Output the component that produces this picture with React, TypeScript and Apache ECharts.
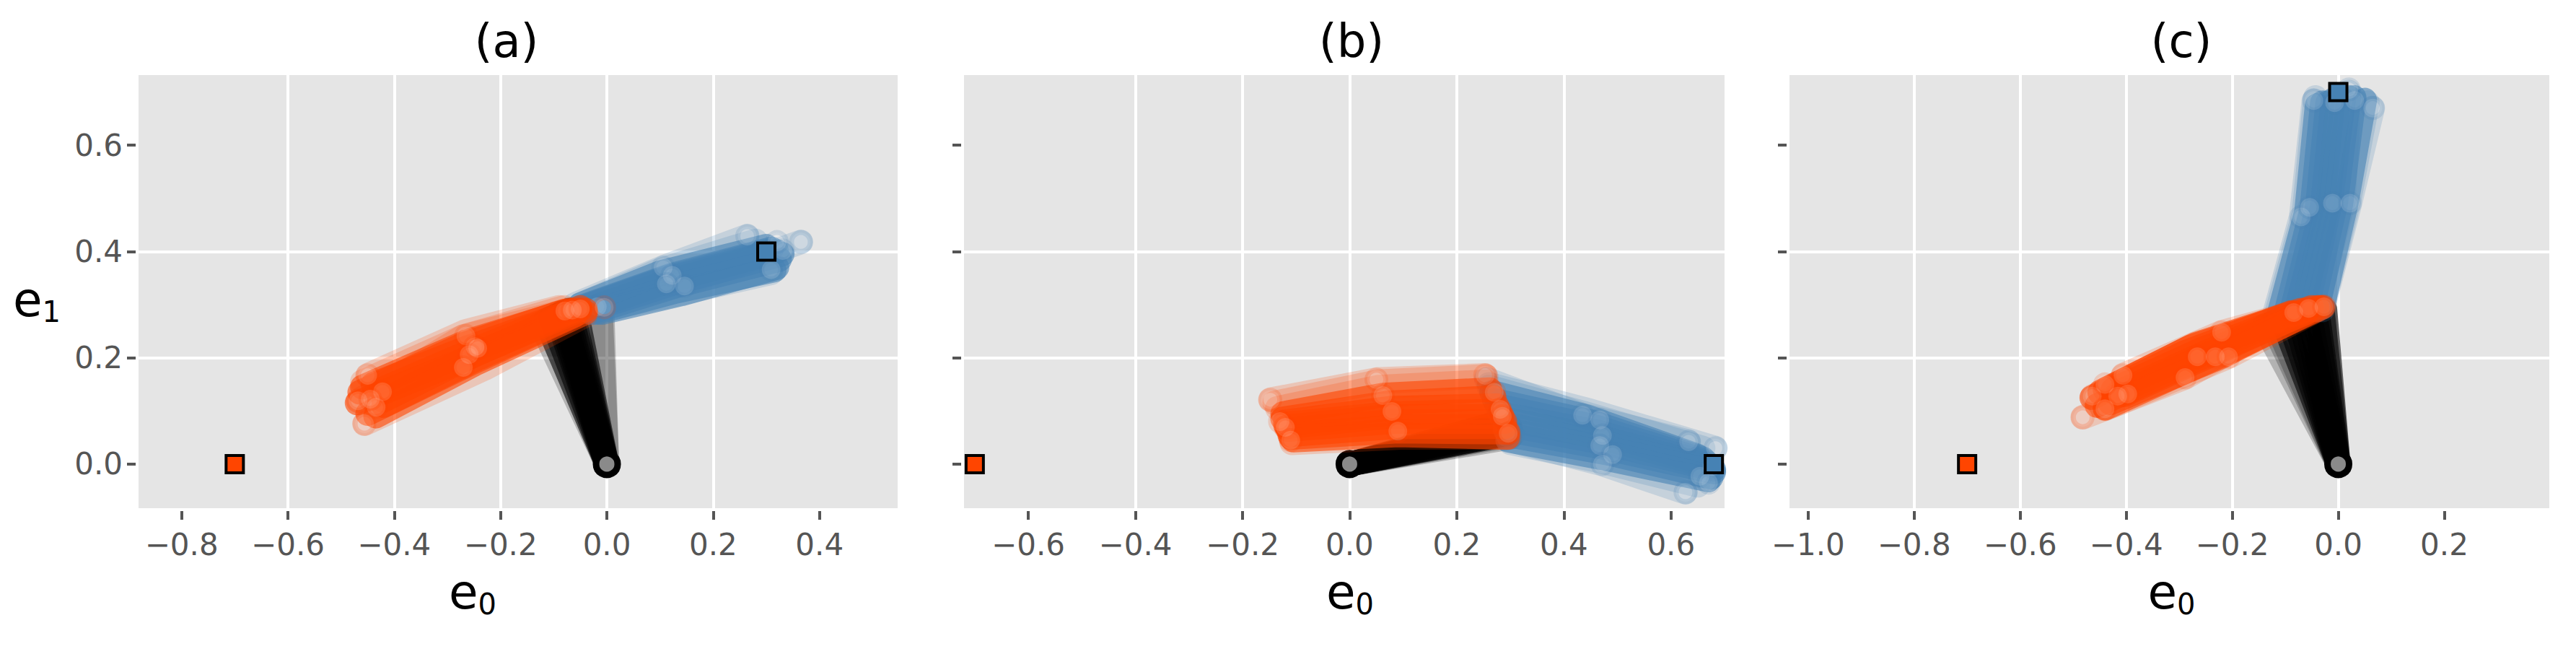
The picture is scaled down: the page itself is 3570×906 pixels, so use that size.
import React, { useEffect, useRef } from "react";
import * as echarts from "echarts";

const BLUE = "#4682b4";
const ORANGE = "#ff4500";
const BLACK = "#000000";

const titles = ["(a)", "(b)", "(c)"];
const yTicks = [0, 0.2, 0.4, 0.6];
const aTicks = [-0.8, -0.6, -0.4, -0.2, 0, 0.2, 0.4];
const bTicks = [-0.6, -0.4, -0.2, 0, 0.2, 0.4, 0.6];
const cTicks = [-1, -0.8, -0.6, -0.4, -0.2, 0, 0.2];
const xRanges = [[-0.881, 0.547], [-0.72, 0.7], [-1.035, 0.398]];
const yRange = [-0.083, 0.732];

const origin = [[0, 0]];
const orangeTarget = [[-0.7, 0]];
const blueTargets = [[[0.3, 0.4]], [[0.68, 0]], [[0, 0.7]]];

// Trajectories: x0,y0,x1,y1[,x2,y2]
const aBlackCore = [[0,0,-0.115,0.27],[0,0,-0.105,0.275],[0,0,-0.095,0.28],[0,0,-0.09,0.28],[0,0,-0.085,0.285],[0,0,-0.08,0.285],[0,0,-0.075,0.285],[0,0,-0.07,0.29],[0,0,-0.065,0.29],[0,0,-0.058,0.29]];
const aBlackEdge = [[0,0,-0.125,0.265],[0,0,-0.009,0.295],[0,0,-0.012,0.29]];
const aBlueCore = [[-0.07,0.285,0.1,0.345,0.295,0.395],[-0.06,0.29,0.11,0.35,0.3,0.4],[-0.05,0.295,0.12,0.355,0.31,0.405],[-0.04,0.29,0.12,0.345,0.32,0.4],[-0.03,0.29,0.125,0.34,0.33,0.395],[-0.03,0.285,0.13,0.335,0.325,0.385],[-0.02,0.285,0.13,0.325,0.315,0.365],[-0.01,0.285,0.14,0.32,0.32,0.37],[-0.05,0.3,0.1,0.36,0.3,0.41]];
const aBlueEdge = [[-0.06,0.3,0.106,0.37,0.264,0.429],[-0.05,0.3,0.1,0.365,0.28,0.42],[-0.03,0.295,0.146,0.34,0.365,0.418],[-0.018,0.29,0.112,0.315,0.309,0.36]];
const aOrangeCore = [[-0.08,0.288,-0.27,0.225,-0.465,0.135],[-0.07,0.29,-0.265,0.23,-0.46,0.145],[-0.06,0.29,-0.26,0.22,-0.44,0.15],[-0.05,0.295,-0.25,0.215,-0.425,0.14],[-0.05,0.29,-0.25,0.205,-0.42,0.12],[-0.04,0.29,-0.24,0.2,-0.42,0.11],[-0.04,0.285,-0.245,0.19,-0.435,0.09],[-0.06,0.28,-0.255,0.19,-0.45,0.095],[-0.07,0.285,-0.26,0.2,-0.47,0.115]];
const aOrangeEdge = [[-0.09,0.295,-0.265,0.25,-0.45,0.167],[-0.08,0.295,-0.27,0.24,-0.46,0.155],[-0.04,0.28,-0.23,0.18,-0.456,0.076],[-0.07,0.29,-0.27,0.24,-0.468,0.119]];
const aBlueMarks = [[-0.018,0.296],[0.106,0.37],[0.123,0.355],[0.146,0.335],[0.112,0.339],[0.264,0.429],[0.365,0.418],[0.309,0.366],[0.331,0.402],[0.32,0.418]];
const aOrangeMarks = [[-0.005,0.295],[-0.079,0.288],[-0.065,0.29],[-0.05,0.292],[-0.265,0.241],[-0.248,0.221],[-0.259,0.206],[-0.243,0.218],[-0.27,0.182],[-0.45,0.167],[-0.422,0.136],[-0.468,0.119],[-0.434,0.107],[-0.456,0.076],[-0.445,0.122]];

const bBlackCore = [[0,0,0.285,0.08],[0,0,0.29,0.075],[0,0,0.295,0.07],[0,0,0.295,0.065],[0,0,0.3,0.07],[0,0,0.3,0.065],[0,0,0.3,0.06],[0,0,0.295,0.058],[0,0,0.29,0.055],[0,0,0.285,0.07]];
const bBlackEdge = [[0,0,0.3,0.05],[0,0,0.305,0.055],[0,0,0.27,0.07]];
const bBlueCore = [[0.265,0.135,0.44,0.09,0.65,0.015],[0.27,0.12,0.45,0.08,0.66,0.01],[0.275,0.11,0.46,0.07,0.665,0.005],[0.28,0.095,0.465,0.06,0.67,0],[0.285,0.085,0.47,0.05,0.675,-0.005],[0.29,0.075,0.475,0.04,0.68,-0.01],[0.29,0.065,0.48,0.03,0.68,-0.015],[0.295,0.055,0.485,0.02,0.675,-0.025],[0.295,0.045,0.48,0.01,0.67,-0.03]];
const bBlueEdge = [[0.255,0.16,0.435,0.092,0.633,0.042],[0.26,0.15,0.45,0.1,0.683,0.03],[0.26,0.145,0.44,0.095,0.66,0.03],[0.3,0.045,0.472,0,0.627,-0.053],[0.3,0.04,0.47,0.005,0.65,-0.04]];
const bOrangeCore = [[0.262,0.14,0.062,0.13,-0.125,0.095],[0.27,0.125,0.07,0.115,-0.125,0.085],[0.275,0.11,0.075,0.105,-0.12,0.08],[0.28,0.1,0.075,0.095,-0.12,0.075],[0.285,0.09,0.08,0.09,-0.118,0.07],[0.29,0.08,0.085,0.08,-0.115,0.065],[0.29,0.07,0.085,0.07,-0.112,0.055],[0.296,0.06,0.09,0.062,-0.11,0.05],[0.295,0.05,0.09,0.055,-0.105,0.045]];
const bOrangeEdge = [[0.253,0.167,0.05,0.159,-0.148,0.121],[0.255,0.165,0.052,0.155,-0.14,0.115],[0.255,0.155,0.055,0.145,-0.135,0.105],[0.298,0.05,0.095,0.05,-0.108,0.04]];
const bBlueMarks = [[0.435,0.092],[0.467,0.083],[0.472,0.054],[0.467,0.035],[0.491,0.018],[0.472,0],[0.633,0.042],[0.627,-0.053],[0.654,-0.023],[0.677,-0.005],[0.683,0.03],[0.67,-0.035]];
const bOrangeMarks = [[0.253,0.167],[0.27,0.135],[0.281,0.103],[0.285,0.09],[0.296,0.058],[0.05,0.159],[0.062,0.129],[0.079,0.099],[0.09,0.062],[-0.148,0.121],[-0.13,0.08],[-0.12,0.069],[-0.11,0.045]];

const cBlackCore = [[0,0,-0.105,0.27],[0,0,-0.095,0.275],[0,0,-0.085,0.28],[0,0,-0.075,0.28],[0,0,-0.065,0.285],[0,0,-0.055,0.285],[0,0,-0.045,0.29],[0,0,-0.04,0.29],[0,0,-0.03,0.29],[0,0,-0.025,0.29]];
const cBlackEdge = [[0,0,-0.14,0.26],[0,0,-0.125,0.265],[0,0,-0.12,0.27]];
const cBlueCore = [[-0.115,0.27,-0.06,0.475,-0.04,0.675],[-0.1,0.28,-0.05,0.48,-0.03,0.68],[-0.09,0.28,-0.04,0.48,-0.02,0.68],[-0.08,0.285,-0.03,0.485,-0.01,0.685],[-0.07,0.285,-0.02,0.485,0,0.68],[-0.06,0.29,-0.015,0.49,0.01,0.685],[-0.05,0.29,-0.005,0.49,0.02,0.69],[-0.04,0.29,0.005,0.49,0.03,0.69],[-0.03,0.295,0.015,0.49,0.05,0.685]];
const cBlueEdge = [[-0.125,0.265,-0.07,0.465,-0.046,0.684],[-0.12,0.27,-0.065,0.47,-0.043,0.69],[-0.03,0.29,0.022,0.491,0.065,0.67],[-0.03,0.295,0.02,0.495,0.055,0.68],[-0.04,0.295,0.01,0.495,0.02,0.7]];
const cOrangeCore = [[-0.09,0.285,-0.29,0.21,-0.465,0.125],[-0.08,0.285,-0.28,0.22,-0.45,0.135],[-0.07,0.29,-0.27,0.225,-0.44,0.14],[-0.06,0.29,-0.26,0.215,-0.425,0.14],[-0.05,0.295,-0.25,0.21,-0.415,0.135],[-0.04,0.295,-0.24,0.205,-0.405,0.13],[-0.035,0.295,-0.225,0.2,-0.43,0.115],[-0.03,0.295,-0.22,0.205,-0.44,0.105],[-0.06,0.285,-0.26,0.2,-0.455,0.11]];
const cOrangeEdge = [[-0.084,0.285,-0.22,0.248,-0.406,0.167],[-0.027,0.296,-0.207,0.202,-0.44,0.104],[-0.056,0.293,-0.289,0.163,-0.482,0.088]];
const cBlueMarks = [[-0.07,0.465],[-0.054,0.483],[-0.011,0.491],[0.022,0.491],[-0.046,0.684],[-0.007,0.68],[0.031,0.684],[0.065,0.67],[0.02,0.705]];
const cOrangeMarks = [[-0.084,0.285],[-0.056,0.293],[-0.027,0.296],[-0.22,0.248],[-0.266,0.202],[-0.232,0.202],[-0.207,0.202],[-0.289,0.163],[-0.406,0.167],[-0.397,0.132],[-0.416,0.128],[-0.464,0.128],[-0.44,0.104],[-0.482,0.088],[-0.44,0.15]];

const panels = [
  { ticks: aTicks, black: [aBlackEdge, aBlackCore], blue: [aBlueEdge, aBlueCore], orange: [aOrangeEdge, aOrangeCore], blueMarks: aBlueMarks, orangeMarks: aOrangeMarks },
  { ticks: bTicks, black: [bBlackEdge, bBlackCore], blue: [bBlueEdge, bBlueCore], orange: [bOrangeEdge, bOrangeCore], blueMarks: bBlueMarks, orangeMarks: bOrangeMarks },
  { ticks: cTicks, black: [cBlackEdge, cBlackCore], blue: [cBlueEdge, cBlueCore], orange: [cOrangeEdge, cOrangeCore], blueMarks: cBlueMarks, orangeMarks: cOrangeMarks },
];

const grids = [
  { left: 192, width: 1052, top: 104, height: 600, show: true, backgroundColor: "#e5e5e5", borderWidth: 0 },
  { left: 1336, width: 1054, top: 104, height: 600, show: true, backgroundColor: "#e5e5e5", borderWidth: 0 },
  { left: 2480, width: 1053, top: 104, height: 600, show: true, backgroundColor: "#e5e5e5", borderWidth: 0 },
];
const titleCenters = [697, 1868, 3018];
const xNamePadding = [[0, 126, 0, 0], [0, 0, 0, 16], [0, 0, 0, 6]];

const FONT = "DejaVu Sans";
const tickText = (v: number) => (v < 0 ? "\u2212" : "") + Math.abs(v).toFixed(1);
const nameRich = {
  b: { fontFamily: FONT, fontSize: 66, color: "#000", verticalAlign: "top", lineHeight: 70 },
  s: { fontFamily: FONT, fontSize: 40, color: "#000", verticalAlign: "bottom", lineHeight: 70, padding: [15, 0, 0, 0] },
};

function rgba(hex: string, a: number) {
  const n = parseInt(hex.slice(1), 16);
  return `rgba(${n >> 16},${(n >> 8) & 255},${n & 255},${a})`;
}

function lineSeries(g: number, rows: number[][], color: string, opacity: number, z: number) {
  return rows.map((r) => {
    const data: number[][] = [];
    for (let i = 0; i < r.length; i += 2) data.push([r[i], r[i + 1]]);
    return {
      type: "line", xAxisIndex: g, yAxisIndex: g, data, showSymbol: false, symbol: "none", silent: true,
      clip: false, smooth: false, z,
      lineStyle: { color, width: 34, opacity, cap: "round", join: "round" },
    };
  });
}

function markSeries(g: number, data: number[][], color: string, fill: number, ring: number, size: number, bw: number, z: number) {
  return {
    type: "scatter", xAxisIndex: g, yAxisIndex: g, data, symbol: "circle", symbolSize: size, silent: true, clip: false, z,
    itemStyle: { color: `rgba(255,255,255,${fill})`, borderColor: rgba(color, ring), borderWidth: bw, opacity: 1 },
  };
}

function targetSeries(g: number, data: number[][], color: string) {
  return {
    type: "scatter", xAxisIndex: g, yAxisIndex: g, data, symbol: "rect", symbolSize: 24, silent: true, clip: false, z: 9,
    itemStyle: { color, borderColor: "#000", borderWidth: 4, opacity: 1 },
  };
}

function buildOption() {
  const series: any[] = [];
  panels.forEach((p, g) => {
    series.push(...lineSeries(g, p.black[0], BLACK, 0.22, 3), ...lineSeries(g, p.black[1], BLACK, 0.6, 3));
    series.push(markSeries(g, origin, BLACK, 0.54, 1, 30, 9, 4));
    series.push(...lineSeries(g, p.blue[0], BLUE, 0.2, 5), ...lineSeries(g, p.blue[1], BLUE, 0.6, 5));
    series.push(markSeries(g, p.blueMarks, BLUE, 0.17, 0.18, 26, 7, 6));
    series.push(...lineSeries(g, p.orange[0], ORANGE, 0.2, 7), ...lineSeries(g, p.orange[1], ORANGE, 0.6, 7));
    series.push(markSeries(g, p.orangeMarks, ORANGE, 0.17, 0.18, 26, 7, 8));
    series.push(targetSeries(g, orangeTarget, ORANGE));
    series.push(targetSeries(g, blueTargets[g], BLUE));
  });
  return {
    animation: false,
    backgroundColor: "#fff",
    title: titles.map((t, i) => ({
      text: t,
      left: titleCenters[i],
      top: 20,
      textAlign: "center",
      textStyle: { fontFamily: FONT, fontSize: 64, fontWeight: "normal", color: "#000" },
    })),
    grid: grids,
    xAxis: panels.map((p, i) => ({
      type: "value", gridIndex: i, min: xRanges[i][0], max: xRanges[i][1], interval: 0.2, offset: 4,
      name: "{b|e}{s|0}", nameLocation: "middle", nameGap: 79, nameMoveOverlap: false,
      nameTextStyle: { rich: nameRich, padding: xNamePadding[i] },
      axisLine: { show: false, onZero: false },
      axisTick: { show: true, length: 12, lineStyle: { color: "#555", width: 4 }, customValues: p.ticks },
      axisLabel: { show: true, customValues: p.ticks, formatter: tickText, color: "#555", fontFamily: FONT, fontSize: 42, margin: 25 },
      splitLine: { show: true, showMinLine: false, showMaxLine: false, lineStyle: { color: "#fff", width: 4 } },
    })),
    yAxis: panels.map((_, i) => ({
      type: "value", gridIndex: i, min: yRange[0], max: yRange[1], interval: 0.2, offset: 4,
      name: i === 0 ? "{b|e}{s|1}" : "", nameLocation: "middle", nameGap: 104, nameRotate: 0, nameMoveOverlap: false,
      nameTextStyle: { rich: nameRich, padding: [26, 0, 0, 0] },
      axisLine: { show: false, onZero: false },
      axisTick: { show: true, length: 12, lineStyle: { color: "#555", width: 4 }, customValues: yTicks },
      axisLabel: { show: i === 0, customValues: yTicks, formatter: tickText, color: "#555", fontFamily: FONT, fontSize: 42, margin: 18 },
      splitLine: { show: true, showMinLine: false, showMaxLine: false, lineStyle: { color: "#fff", width: 4 } },
    })),
    series,
  };
}

export default function App() {
  const ref = useRef<HTMLDivElement>(null);
  useEffect(() => {
    document.body.style.margin = "0";
    const chart = echarts.init(ref.current!, undefined, { renderer: "svg" });
    chart.setOption(buildOption() as any);
    return () => chart.dispose();
  }, []);
  return <div ref={ref} style={{ width: 3570, height: 906 }} />;
}
